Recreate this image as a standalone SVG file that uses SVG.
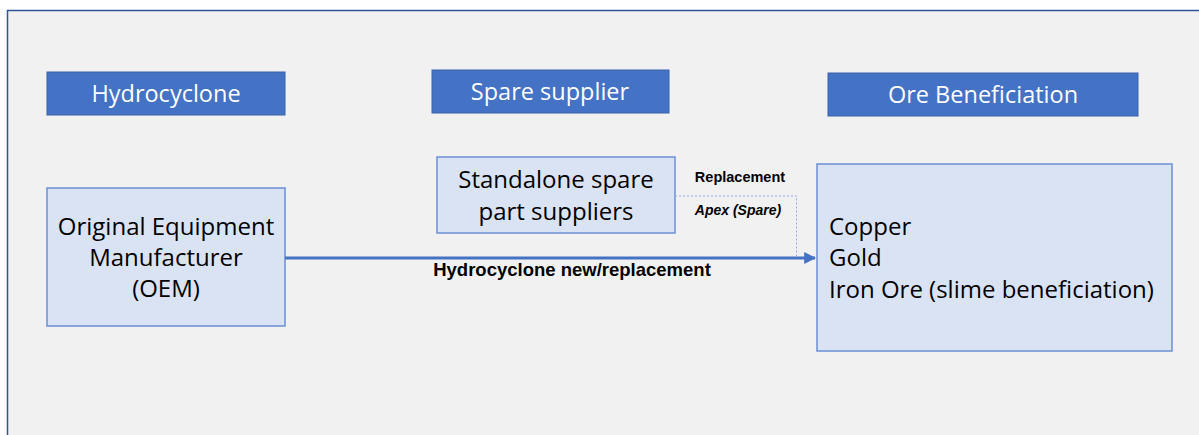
<svg xmlns="http://www.w3.org/2000/svg" width="1199" height="435" viewBox="0 0 1199 435">
  <style>
    .hdr { fill: #4472c4; stroke: #3a62a8; stroke-width: 1; }
    .hdrt { fill: #ffffff; font-family: "Open Sans", "Liberation Sans", sans-serif; font-size: 23.5px; text-anchor: middle; }
    .node { fill: #dae3f3; stroke: #6b8fd4; stroke-width: 1.5; }
    .nt { fill: #000000; font-family: "Open Sans", "Liberation Sans", sans-serif; font-size: 24px; }
    .lbl { fill: #000000; font-family: "Liberation Sans", Arial, sans-serif; font-weight: bold; }
  </style>
  <defs>
    <marker id="arr" viewBox="0 0 10 10" refX="9" refY="5" markerWidth="4" markerHeight="4" orient="auto" markerUnits="strokeWidth">
      <path d="M0,0 L10,5 L0,10 z" fill="#4472c4"/>
    </marker>
  </defs>
  <rect x="0" y="0" width="1199" height="435" fill="#ffffff"/>
  <rect x="7" y="10" width="1200" height="430" fill="#f1f1f1"/>
  <path d="M7.5,435 L7.5,10.5 L1199,10.5" fill="none" stroke="#2f5597" stroke-width="1.5"/>

  <g id="hdr-hydrocyclone">
    <rect class="hdr" x="47" y="72" width="238" height="43"/>
    <text class="hdrt" x="166" y="102">Hydrocyclone</text>
  </g>
  <g id="hdr-spare">
    <rect class="hdr" x="432" y="70" width="237" height="43"/>
    <text class="hdrt" x="550" y="100">Spare supplier</text>
  </g>
  <g id="hdr-ore">
    <rect class="hdr" x="828" y="73" width="310" height="43"/>
    <text class="hdrt" x="983" y="103">Ore Beneficiation</text>
  </g>

  <g id="node-oem">
    <rect class="node" x="47" y="188" width="238" height="138"/>
    <text class="nt" text-anchor="middle" x="166" y="235">Original Equipment</text>
    <text class="nt" text-anchor="middle" x="166" y="266">Manufacturer</text>
    <text class="nt" text-anchor="middle" x="166" y="297">(OEM)</text>
  </g>
  <g id="node-standalone">
    <rect class="node" x="437" y="157" width="238" height="76"/>
    <text class="nt" text-anchor="middle" x="556" y="188">Standalone spare</text>
    <text class="nt" text-anchor="middle" x="556" y="220">part suppliers</text>
  </g>
  <g id="node-ore">
    <rect class="node" x="817" y="164" width="355" height="187"/>
    <text class="nt" x="829" y="235">Copper</text>
    <text class="nt" x="829" y="266">Gold</text>
    <text class="nt" x="829" y="298">Iron Ore (slime beneficiation)</text>
  </g>

  <g id="connectors">
    <line x1="285" y1="258" x2="815" y2="258" stroke="#4472c4" stroke-width="3" marker-end="url(#arr)"/>
    <text class="lbl" x="572" y="276" font-size="18.5px" text-anchor="middle">Hydrocyclone new/replacement</text>
    <path d="M675,196 L796.5,196 L796.5,256" fill="none" stroke="#8faadc" stroke-width="1" stroke-dasharray="2,2"/>
    <text class="lbl" x="740" y="182" font-size="14.5px" text-anchor="middle">Replacement</text>
    <text class="lbl" x="738" y="215" font-size="14px" font-style="italic" text-anchor="middle">Apex (Spare)</text>
  </g>
</svg>
